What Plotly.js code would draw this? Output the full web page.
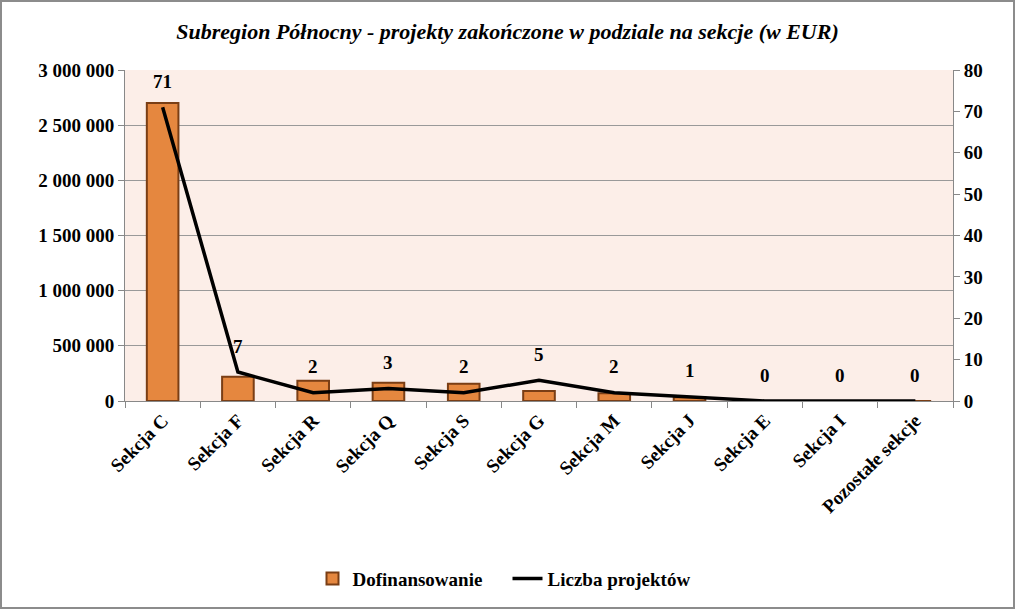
<!DOCTYPE html>
<html><head><meta charset="utf-8">
<script src="https://cdn.plot.ly/plotly-3.0.1.min.js"></script>
<style>
html,body{margin:0;padding:0;background:#fff;}
#wrap{width:1015px;height:609px;position:relative;overflow:hidden;}
#chart{position:absolute;left:0;top:0;width:1015px;height:609px;}
#frame{position:absolute;left:0;top:0;width:1015px;height:609px;box-sizing:border-box;border:2px solid #8c8c8c;pointer-events:none;}
</style></head>
<body><div id="wrap"><div id="chart"></div><div id="frame"></div></div>
<script>
const categories = ['Sekcja C','Sekcja F','Sekcja R','Sekcja Q','Sekcja S','Sekcja G','Sekcja M','Sekcja J','Sekcja E','Sekcja I','Pozostałe sekcje'];
const dofinansowanie = [2700000, 220000, 183000, 166000, 157000, 91000, 70000, 34000, 0, 0, 0];
const liczbaProjektow = [71, 7, 2, 3, 2, 5, 2, 1, 0, 0, 0];

const font = 'Liberation Serif, Times New Roman, serif';
const traces = [
  {type:'bar', name:'Dofinansowanie', x:categories, y:dofinansowanie, yaxis:'y',
   marker:{color:'#E5873F', line:{color:'#7A3E15', width:2}}, width:0.42},
  {type:'scatter', mode:'lines', name:'Liczba projektów', x:categories, y:liczbaProjektow, yaxis:'y2',
   line:{color:'#000', width:3.5}}
];
const annotations = categories.map((c,i)=>({
  x:c, y:liczbaProjektow[i], xref:'x', yref:'y2', text:'<b>'+liczbaProjektow[i]+'</b>',
  showarrow:false, yshift:26, font:{family:font, size:19, color:'#000'}
}));
const layout = {
  width:1015, height:609,
  margin:{l:125, r:62, t:70, b:208},
  paper_bgcolor:'#fff', plot_bgcolor:'#FCEEE8',
  separators:', ',
  annotations: annotations,
  title:{text:'<b><i>Subregion Północny - projekty zakończone w podziale na sekcje (w EUR)</i></b>',
         font:{family:font, size:22, color:'#000'}, x:0.5, xanchor:'center', xref:'container', y:0.948, yanchor:'middle'},
  font:{family:font, color:'#000'},
  xaxis:{type:'category', tickangle:-45, tickfont:{family:font, size:19, weight:'bold'},
         showline:true, linecolor:'#888', linewidth:1, ticks:'outside', tickson:'boundaries',
         ticklen:6, tickcolor:'#888', showgrid:false, zeroline:false},
  yaxis:{range:[0,3000000], dtick:500000, tickformat:',d', tickfont:{family:font, size:19, weight:'bold'},
         showline:true, linecolor:'#888', ticks:'outside', ticklen:6, tickcolor:'#888',
         gridcolor:'#999', gridwidth:1, zeroline:false},
  yaxis2:{range:[0,80], dtick:10, overlaying:'y', side:'right', tickfont:{family:font, size:19, weight:'bold'},
          showline:true, linecolor:'#888', ticks:'outside', ticklen:6, tickcolor:'#888',
          showgrid:false, zeroline:false},
  legend:{orientation:'h', xref:'container', x:0.5, xanchor:'center', yref:'container', y:0.05, yanchor:'middle',
          font:{family:font, size:19, weight:'bold'}, entrywidth:150, entrywidthmode:'pixels'},
  showlegend:true
};
Plotly.newPlot('chart', traces, layout, {displayModeBar:false, staticPlot:true});
</script></body></html>
